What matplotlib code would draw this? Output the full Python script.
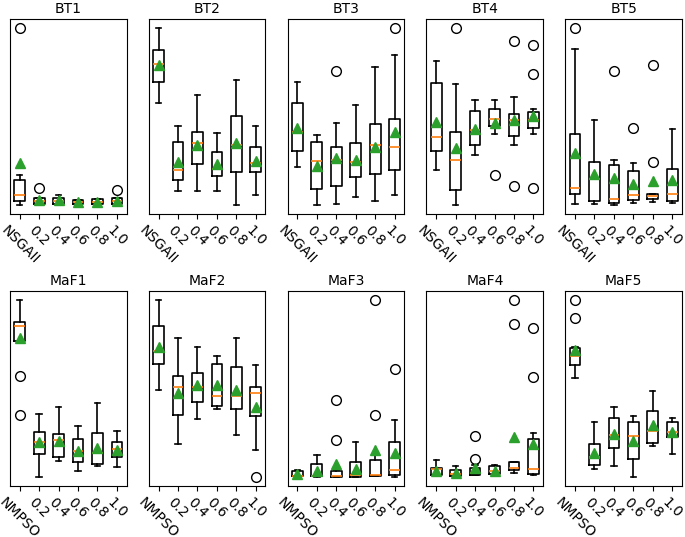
import matplotlib
matplotlib.use("Agg")
import matplotlib.pyplot as plt

titles = ["BT1", "BT2", "BT3", "BT4", "BT5", "MaF1", "MaF2", "MaF3", "MaF4", "MaF5"]
labels_bt = ["NSGAII", "0.2", "0.4", "0.6", "0.8", "1.0"]
labels_maf = ["NMPSO", "0.2", "0.4", "0.6", "0.8", "1.0"]

# each box: (whislo, q1, med, q3, whishi, mean, [fliers])
BT1 = [(10, 13.3, 20, 34.7, 39.7, 51.7, [185.7]),
       (10, 10.7, 13.3, 16.7, 16.7, 14.7, [26.3]),
       (10.7, 10.7, 14, 16.7, 20, 14.7, []),
       (10, 10.7, 12.7, 14.7, 14.7, 12.3, []),
       (10, 10.7, 13, 15.3, 15.3, 13, []),
       (10.7, 10.7, 13.3, 16.7, 16.7, 14, [25])]
BT2 = [(111.3, 132.3, 149.7, 163.3, 185.7, 149, []),
       (23, 34.7, 44.7, 72.3, 88.3, 52.3, []),
       (23.3, 50, 71.3, 82.3, 119.3, 69, []),
       (23.3, 38, 45.7, 61.7, 81.3, 50, []),
       (9.7, 42.7, 69, 98, 134, 71.3, []),
       (19.3, 42.7, 51, 67.3, 88.3, 53, [])]
BT3 = [(47.3, 63, 81.7, 111.3, 132.3, 86.3, []),
       (9.7, 25, 53.3, 71.7, 79, 48.3, []),
       (10.3, 28.3, 54.7, 66.7, 91.3, 56.3, [142.7]),
       (17, 37.3, 52.3, 70.7, 109, 54.7, []),
       (13.7, 40.7, 69.3, 90.3, 146.7, 67.3, []),
       (19.7, 44.3, 67, 94.7, 158.7, 82.3, [185.7])]
BT4 = [(44.7, 63.3, 77.3, 130.7, 153, 92.3, []),
       (10, 24.7, 54, 82.3, 130, 66.7, [185.7]),
       (59.7, 69.7, 84, 103.3, 114, 85.7, []),
       (80.7, 88.3, 95, 104.7, 114, 91.3, [39.7]),
       (69.7, 78.7, 94, 100.3, 117.3, 94, [172.3, 28.3]),
       (80.7, 86.3, 94, 101.7, 104.7, 98, [168.3, 140, 26.3])]
BT5 = [(10.7, 20.7, 26.7, 80, 164.7, 61.3, [185.7]),
       (10.7, 13.3, 35, 52.3, 93.7, 40, []),
       (9.7, 11.7, 15, 49, 54, 36.7, [142.7]),
       (11.3, 14, 19, 43, 51.3, 30, [86.3]),
       (12.3, 15, 18, 20.7, 20.7, 33.3, [148.3, 52.3]),
       (11.3, 13.7, 20, 45.3, 84.7, 34, [])]
MaF1 = [(144, 145, 160, 164.3, 186, 148.7, [110.3, 71]),
        (9.3, 32.7, 44.3, 54.3, 72, 44.3, []),
        (25, 29.3, 46, 52.7, 79.3, 45.3, []),
        (15.3, 24, 35, 47, 60, 35, []),
        (20.3, 22, 33.7, 53.3, 83.3, 38.7, []),
        (19.3, 29.3, 37, 44, 55.3, 36.7, [])]
MaF2 = [(96.7, 122, 135, 160.3, 186, 139.3, []),
        (42.3, 71, 99, 110.7, 148.7, 93.7, []),
        (67.3, 84, 99.3, 113.7, 139.3, 101, []),
        (77.3, 80, 90.7, 122.3, 130.3, 101, []),
        (51, 77.7, 90.7, 119.7, 148.7, 96, []),
        (36, 70.7, 93, 99.7, 121.7, 79.3, [9.3])]
MaF3 = [(9.3, 10, 10, 15.3, 16.7, 12.7, []),
        (9.3, 10, 10, 22, 31.7, 15.3, []),
        (9.3, 9.3, 10, 15.3, 16.7, 22, [86, 46]),
        (9.3, 9.3, 11.7, 24.3, 44, 17.7, []),
        (10, 10, 11, 26.7, 31, 36, [186, 71]),
        (9.3, 11, 16, 44.3, 66.7, 33.7, [117.7])]
MaF4 = [(10, 11, 17.7, 18.7, 26.7, 15, []),
        (9.3, 10.3, 12.7, 16.7, 20, 13.3, []),
        (11, 11, 13.3, 18.3, 21, 18.3, [50.3, 27.7]),
        (11, 12, 15.3, 20, 21, 15.3, []),
        (13.7, 16, 18.7, 24.3, 24.3, 49.3, [186, 162.7]),
        (11, 12.7, 17, 47.7, 53.7, 42.7, [158.7, 109.3])]
MaF5 = [(108.7, 121.7, 130.3, 138.7, 139, 136, [186, 168.7]),
        (17.7, 21, 29.3, 42, 64.3, 33.3, []),
        (20.3, 38.7, 51.7, 68.7, 79.3, 52, []),
        (9.3, 27, 50.3, 64.3, 70.7, 45, []),
        (40.3, 43.3, 55.3, 75.3, 95.3, 61, []),
        (32.7, 49.3, 54, 64.3, 68.7, 54.3, [])]

panels = [BT1, BT2, BT3, BT4, BT5, MaF1, MaF2, MaF3, MaF4, MaF5]

fig, axes = plt.subplots(2, 5, figsize=(6.85, 5.37), dpi=100)
fig.subplots_adjust(left=0.0146, right=0.9956, top=0.9646, bottom=0.095,
                    wspace=0.19, hspace=0.40)

for i, (ax, data, title) in enumerate(zip(axes.flat, panels, titles)):
    stats = []
    for (lo, q1, med, q3, hi, mean, fl) in data:
        stats.append(dict(whislo=lo, q1=q1, med=med, q3=q3, whishi=hi,
                          mean=mean, fliers=fl))
    ax.bxp(stats, showmeans=True, widths=0.55,
           meanprops=dict(marker='^', markerfacecolor='#2ca02c',
                          markeredgecolor='#2ca02c', markersize=7.5),
           flierprops=dict(marker='o', markerfacecolor='none',
                           markeredgecolor='black', markersize=7),
           medianprops=dict(color='#ff7f0e', linewidth=1.2),
           boxprops=dict(linewidth=1.2), whiskerprops=dict(linewidth=1.2),
           capprops=dict(linewidth=1.2))
    ax.set_title(title, fontsize=10, pad=4.5)
    ax.set_yticks([])
    labels = labels_bt if i < 5 else labels_maf
    ax.set_xticks(range(1, 7))
    ax.set_xticklabels(labels, rotation=-45, fontsize=10)

fig.savefig("out.png", dpi=100)
